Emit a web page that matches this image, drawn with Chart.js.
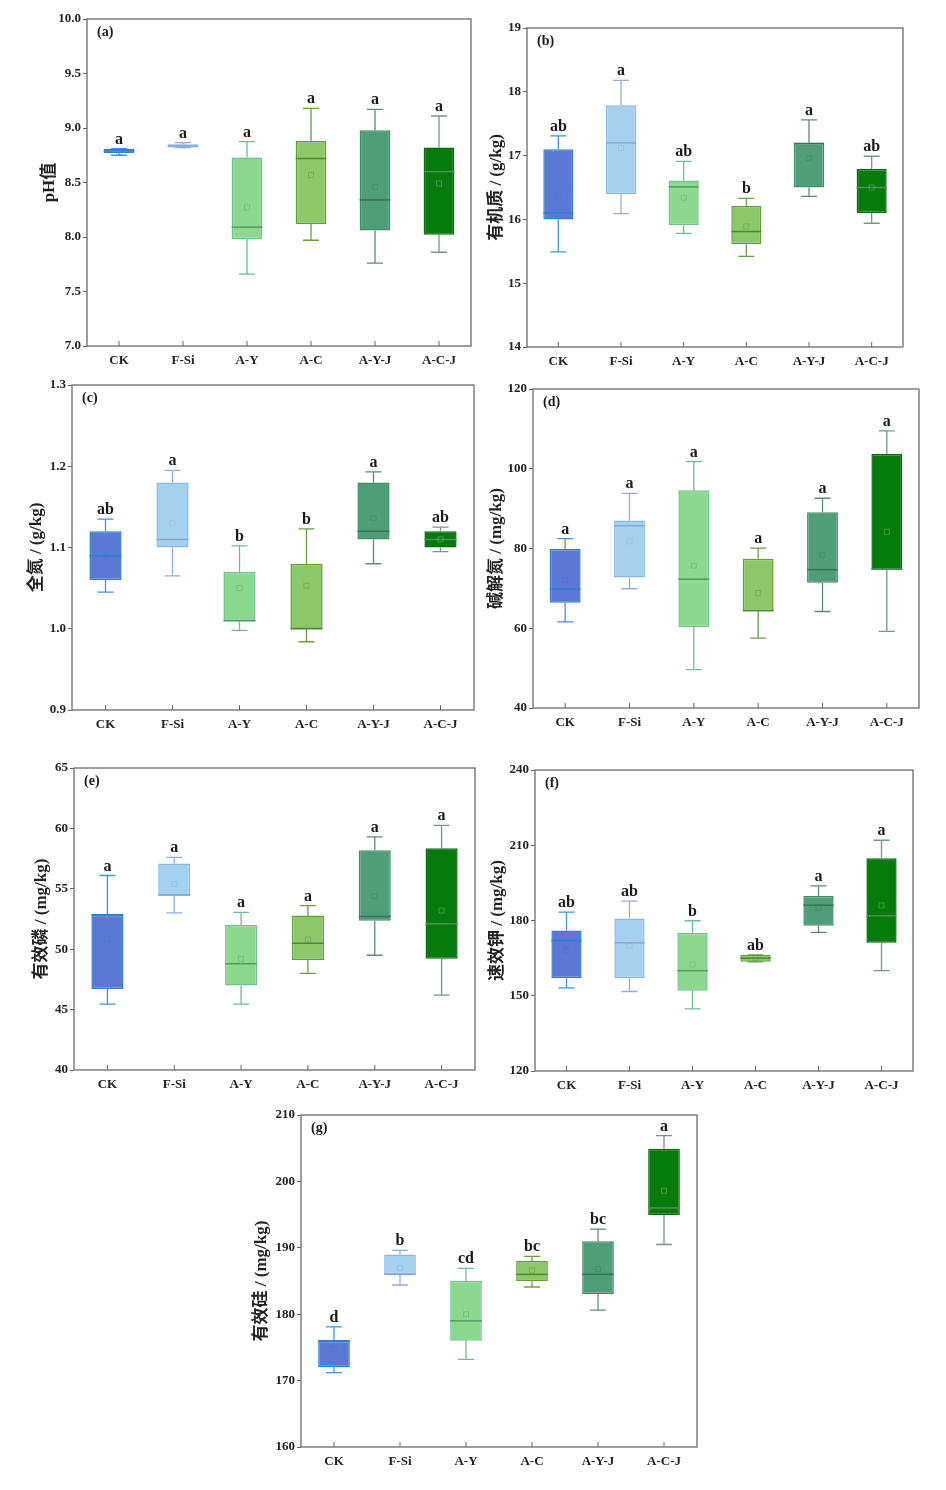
<!DOCTYPE html>
<html>
<head>
<meta charset="utf-8">
<script src="https://cdn.jsdelivr.net/npm/chart.js@4.4.1/dist/chart.umd.min.js"></script>
<style>
  html, body { margin: 0; padding: 0; background: #ffffff; }
  body { width: 946px; height: 1490px; position: relative; overflow: hidden; }
  canvas { position: absolute; }
</style>
</head>
<body>
<script>
// ---------- categories ----------
const categories = ['CK', 'F-Si', 'A-Y', 'A-C', 'A-Y-J', 'A-C-J'];

// ---------- (a) pH ----------
const phMin  = [8.75, 8.82, 7.66, 7.97, 7.76, 7.86];
const phQ1   = [8.77, 8.82, 7.98, 8.12, 8.06, 8.02];
const phMed  = [8.79, 8.835, 8.09, 8.72, 8.34, 8.60];
const phQ3   = [8.81, 8.85, 8.73, 8.88, 8.98, 8.82];
const phMax  = [8.81, 8.865, 8.875, 9.18, 9.17, 9.11];
const phMean = [8.78, 8.84, 8.27, 8.57, 8.46, 8.49];
const phSig  = ['a', 'a', 'a', 'a', 'a', 'a'];

// ---------- (b) organic matter ----------
const omMin  = [15.49, 16.09, 15.78, 15.42, 16.36, 15.94];
const omQ1   = [16.00, 16.40, 15.91, 15.61, 16.50, 16.10];
const omMed  = [16.10, 17.20, 16.51, 15.81, 17.19, 16.50];
const omQ3   = [17.10, 17.79, 16.61, 16.21, 17.20, 16.79];
const omMax  = [17.31, 18.18, 16.91, 16.33, 17.56, 16.99];
const omMean = [16.40, 17.12, 16.34, 15.89, 16.96, 16.50];
const omSig  = ['ab', 'a', 'ab', 'b', 'a', 'ab'];

// ---------- (c) total N ----------
const tnMin  = [1.045, 1.065, 0.998, 0.984, 1.080, 1.095];
const tnQ1   = [1.060, 1.100, 1.010, 1.000, 1.110, 1.100];
const tnMed  = [1.090, 1.110, 1.010, 1.000, 1.120, 1.110];
const tnQ3   = [1.120, 1.180, 1.070, 1.080, 1.180, 1.120];
const tnMax  = [1.135, 1.195, 1.102, 1.123, 1.193, 1.125];
const tnMean = [1.090, 1.130, 1.050, 1.053, 1.136, 1.110];
const tnSig  = ['ab', 'a', 'b', 'b', 'a', 'ab'];

// ---------- (d) alkali-hydrolyzable N ----------
const anMin  = [61.6, 69.9, 49.6, 57.5, 64.2, 59.2];
const anQ1   = [66.4, 72.7, 60.3, 64.3, 71.4, 74.7];
const anMed  = [69.8, 85.7, 72.3, 64.4, 74.7, 74.8];
const anQ3   = [79.9, 87.0, 94.6, 77.4, 89.1, 103.7];
const anMax  = [82.5, 93.8, 101.8, 80.1, 92.6, 109.5];
const anMean = [72.1, 81.8, 75.7, 68.8, 78.4, 84.2];
const anSig  = ['a', 'a', 'a', 'a', 'a', 'a'];

// ---------- (e) available P ----------
const apMin  = [45.45, 53.0, 45.45, 48.0, 49.5, 46.2];
const apQ1   = [46.7, 54.4, 47.0, 49.1, 52.35, 49.2];
const apMed  = [52.85, 54.5, 48.8, 50.5, 52.7, 52.1];
const apQ3   = [52.85, 57.1, 52.0, 52.8, 58.2, 58.35];
const apMax  = [56.1, 57.6, 53.05, 53.6, 59.3, 60.25];
const apMean = [50.8, 55.4, 49.2, 50.8, 54.4, 53.2];
const apSig  = ['a', 'a', 'a', 'a', 'a', 'a'];

// ---------- (f) available K ----------
const akMin  = [153.1, 151.7, 144.8, 163.5, 175.3, 160.0];
const akQ1   = [157.0, 157.0, 152.0, 163.6, 177.9, 171.1];
const akMed  = [172.0, 171.1, 160.0, 165.0, 186.1, 181.9];
const akQ3   = [176.0, 180.8, 175.0, 166.2, 189.8, 204.8];
const akMax  = [183.3, 187.7, 179.9, 166.3, 193.8, 212.0];
const akMean = [168.2, 169.9, 162.5, 165.0, 185.0, 186.0];
const akSig  = ['ab', 'ab', 'b', 'ab', 'a', 'a'];

// ---------- (g) available Si ----------
const asMin  = [171.2, 184.4, 173.2, 184.1, 180.6, 190.5];
const asQ1   = [172.0, 186.0, 176.0, 185.0, 183.0, 194.9];
const asMed  = [176.0, 186.0, 179.0, 186.0, 186.0, 196.0];
const asQ3   = [176.0, 189.0, 185.0, 188.0, 191.0, 204.9];
const asMax  = [178.1, 189.6, 186.9, 188.7, 192.8, 206.9];
const asMean = [174.7, 187.0, 180.0, 186.6, 186.8, 198.6];
const asSig  = ['d', 'b', 'cd', 'bc', 'bc', 'a'];

// ---------- colours per treatment ----------
const boxFill    = ['#5b78d4', '#a6d1ee', '#8dd88f', '#8cc76a', '#4f9e78', '#077a0c'];
const boxLine    = ['#2e7fd0', '#88b8e4', '#6cc38c', '#5f9e3c', '#3e8e66', '#0b6a14'];
const whiskerCol = ['#3f94dc', '#8fb0de', '#6cbf90', '#6a9e48', '#5a8e72', '#6f9b80'];
const medianCol  = ['#2e7fd0', '#88a8d8', '#4f9a6a', '#4a8a30', '#3a7458', '#4f8f5f'];

// ---------- panel layout ----------
const panels = [
  { label: '(a)', title: 'pH值',            yMin: 7,   yMax: 10,  step: 0.5, dec: 1,
    s: [phMin, phQ1, phMed, phQ3, phMax, phMean], sig: phSig, L: 87,  T: 19,   R: 471, B: 346,  d: 37 },
  { label: '(b)', title: '有机质 / (g/kg)',  yMin: 14,  yMax: 19,  step: 1,   dec: 0,
    s: [omMin, omQ1, omMed, omQ3, omMax, omMean], sig: omSig, L: 527, T: 28,   R: 903, B: 347,  d: 30 },
  { label: '(c)', title: '全氮 / (g/kg)',    yMin: 0.9, yMax: 1.3, step: 0.1, dec: 1,
    s: [tnMin, tnQ1, tnMed, tnQ3, tnMax, tnMean], sig: tnSig, L: 72,  T: 385,  R: 474, B: 710,  d: 35 },
  { label: '(d)', title: '碱解氮 / (mg/kg)', yMin: 40,  yMax: 120, step: 20,  dec: 0,
    s: [anMin, anQ1, anMed, anQ3, anMax, anMean], sig: anSig, L: 533, T: 389,  R: 919, B: 708,  d: 36 },
  { label: '(e)', title: '有效磷 / (mg/kg)', yMin: 40,  yMax: 65,  step: 5,   dec: 0,
    s: [apMin, apQ1, apMed, apQ3, apMax, apMean], sig: apSig, L: 74,  T: 768,  R: 475, B: 1070, d: 32 },
  { label: '(f)', title: '速效钾 / (mg/kg)', yMin: 120, yMax: 240, step: 30,  dec: 0,
    s: [akMin, akQ1, akMed, akQ3, akMax, akMean], sig: akSig, L: 535, T: 770,  R: 913, B: 1071, d: 37 },
  { label: '(g)', title: '有效硅 / (mg/kg)', yMin: 160, yMax: 210, step: 10,  dec: 0,
    s: [asMin, asQ1, asMed, asQ3, asMax, asMean], sig: asSig, L: 301, T: 1115, R: 697, B: 1447, d: 39 },
];

const SERIF = "'Liberation Serif', 'Times New Roman', serif";
const TITLE_FAMILY = "'Liberation Serif', 'Noto Sans CJK SC', serif";
const TITLE_SIZE = 17;
const YW = 58, PADT = 12, PADR = 8, XH = 30;

function buildPanel(p) {
  const [mins, q1s, meds, q3s, maxs, means] = p.s;
  const canvas = document.createElement('canvas');
  const w = YW + (p.R - p.L) + PADR;
  const h = PADT + (p.B - p.T) + XH;
  canvas.width = w; canvas.height = h;
  canvas.style.width = w + 'px'; canvas.style.height = h + 'px';
  canvas.style.left = (p.L - YW) + 'px';
  canvas.style.top = (p.T - PADT) + 'px';
  document.body.appendChild(canvas);

  const boxPlugin = {
    id: 'boxExtras',
    beforeDatasetsDraw(chart) {
      const ctx = chart.ctx, y = chart.scales.y;
      const meta = chart.getDatasetMeta(0);
      ctx.save();
      ctx.lineWidth = 1.3;
      meta.data.forEach((bar, i) => {
        const x = bar.x, cap = 8;
        const yMn = y.getPixelForValue(mins[i]), yMx = y.getPixelForValue(maxs[i]);
        const yQ1 = y.getPixelForValue(q1s[i]), yQ3 = y.getPixelForValue(q3s[i]);
        ctx.strokeStyle = whiskerCol[i];
        ctx.beginPath();
        ctx.moveTo(x, yQ3); ctx.lineTo(x, yMx);
        ctx.moveTo(x - cap, yMx); ctx.lineTo(x + cap, yMx);
        ctx.moveTo(x, yQ1); ctx.lineTo(x, yMn);
        ctx.moveTo(x - cap, yMn); ctx.lineTo(x + cap, yMn);
        ctx.stroke();
      });
      ctx.restore();
    },
    afterDatasetsDraw(chart) {
      const ctx = chart.ctx, y = chart.scales.y, xs = chart.scales.x;
      const meta = chart.getDatasetMeta(0);
      const area = chart.chartArea;
      ctx.save();
      meta.data.forEach((bar, i) => {
        const x = bar.x, hw = bar.width / 2;
        // median
        const yMd = y.getPixelForValue(meds[i]);
        ctx.strokeStyle = medianCol[i];
        ctx.lineWidth = 1.5;
        ctx.beginPath(); ctx.moveTo(x - hw, yMd); ctx.lineTo(x + hw, yMd); ctx.stroke();
        // mean marker (faint)
        const yMe = y.getPixelForValue(means[i]);
        ctx.globalAlpha = 0.35;
        ctx.strokeStyle = i === 5 ? '#9fcfa5' : medianCol[i];
        ctx.lineWidth = 1;
        ctx.strokeRect(x - 2.5, yMe - 2.5, 5, 5);
        ctx.globalAlpha = 1;
        // significance letters
        const yMx = y.getPixelForValue(maxs[i]);
        ctx.fillStyle = '#1a1a1a';
        ctx.font = 'bold 16px ' + SERIF;
        ctx.textAlign = 'center';
        ctx.textBaseline = 'alphabetic';
        ctx.fillText(p.sig[i], x, yMx - 5);
      });
      // inward x ticks
      ctx.strokeStyle = '#666';
      ctx.lineWidth = 1;
      categories.forEach((c, i) => {
        const x = xs.getPixelForValue(i);
        ctx.beginPath(); ctx.moveTo(x, area.bottom); ctx.lineTo(x, area.bottom - 5); ctx.stroke();
      });
      // frame
      ctx.strokeStyle = '#6b6b6b';
      ctx.lineWidth = 1.3;
      ctx.strokeRect(area.left, area.top, area.right - area.left, area.bottom - area.top);
      // panel label
      ctx.fillStyle = '#1a1a1a';
      ctx.font = 'bold 14px ' + SERIF;
      ctx.textAlign = 'left';
      ctx.textBaseline = 'middle';
      ctx.fillText(p.label, area.left + 10, area.top + 13);
      ctx.restore();
    }
  };

  new Chart(canvas, {
    type: 'bar',
    data: {
      labels: categories,
      datasets: [{
        data: q1s.map((v, i) => [v, q3s[i]]),
        backgroundColor: boxFill,
        borderColor: boxLine,
        borderWidth: 1.5,
        borderSkipped: false,
        barPercentage: 0.48,
        categoryPercentage: 1.0
      }]
    },
    options: {
      responsive: false,
      animation: false,
      devicePixelRatio: 1,
      layout: { padding: { top: PADT, right: PADR, left: 0, bottom: 0 } },
      plugins: { legend: { display: false }, tooltip: { enabled: false } },
      scales: {
        x: {
          grid: { display: false, drawTicks: false },
          border: { display: false },
          ticks: { color: '#222', font: { family: SERIF, size: 13, weight: 'bold' }, padding: 7, maxRotation: 0, autoSkip: false },
          afterFit(scale) { scale.height = XH; }
        },
        y: {
          min: p.yMin, max: p.yMax,
          grid: { display: true, drawOnChartArea: false, drawTicks: true, tickLength: 4, color: '#666' },
          border: { display: false },
          ticks: {
            stepSize: p.step, color: '#222', padding: 2,
            font: { family: SERIF, size: 13, weight: 'bold' },
            callback: (v) => Number(v).toFixed(p.dec)
          },
          title: {
            display: true, text: p.title, color: '#222',
            font: { family: TITLE_FAMILY, size: TITLE_SIZE, weight: 'bold' },
            padding: { top: YW - p.d - TITLE_SIZE * 0.6, bottom: 0 }
          },
          afterFit(scale) { scale.width = YW; }
        }
      }
    },
    plugins: [boxPlugin]
  });
}

panels.forEach(buildPanel);
</script>
</body>
</html>
